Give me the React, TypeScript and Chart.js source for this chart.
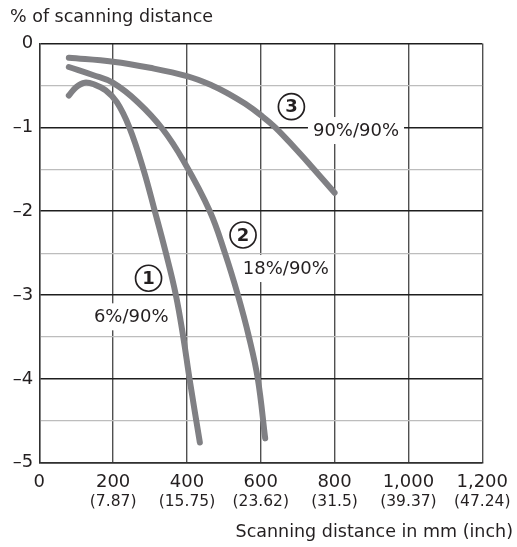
import React, { useEffect, useRef } from 'react';
import { Chart, registerables } from 'chart.js';

Chart.register(...registerables);

// ---- data ----
const curve1X = [80, 100, 123, 150, 180, 210, 244, 282, 313, 343, 370, 390, 407, 435];
const curve1Y = [-0.62, -0.52, -0.467, -0.49, -0.56, -0.7, -1.0, -1.5, -2.0, -2.5, -3.0, -3.5, -4.0, -4.76];

const curve2X = [80, 145, 200, 267, 334, 392, 462, 503, 538, 568, 592, 612];
const curve2Y = [-0.28, -0.376, -0.47, -0.7, -1.02, -1.41, -2.0, -2.5, -3.0, -3.5, -4.0, -4.71];

const curve3X = [80, 200, 300, 400, 468, 513, 558, 600, 639, 693, 738, 800];
const curve3Y = [-0.17, -0.217, -0.29, -0.39, -0.5, -0.6, -0.72, -0.855, -1.0, -1.25, -1.47, -1.78];

const xTickValues = [0, 200, 400, 600, 800, 1000, 1200];
const xTickLabels = ['0', '200', '400', '600', '800', '1,000', '1,200'];
const xTickInch = ['', '(7.87)', '(15.75)', '(23.62)', '(31.5)', '(39.37)', '(47.24)'];

const yTitle = '% of scanning distance';
const xTitle = 'Scanning distance in mm (inch)';

// circled curve numbers and their captions (data coordinates)
const markerNums = ['1', '2', '3'];
const markerX = [296, 552, 683];
const markerY = [-2.8, -2.284, -0.754];
const captionTexts = ['6%/90%', '18%/90%', '90%/90%'];
const captionX = [249, 668, 858];
const captionY = [-3.266, -2.69, -1.044];

const FONT = '"DejaVu Sans", "Liberation Sans", sans-serif';
const LINE_COLOR = '#808084';
const TEXT_COLOR = '#231f20';

function toPoints(xs: number[], ys: number[]) {
  return xs.map((x, i) => ({ x, y: ys[i] }));
}

const overlayPlugin = {
  id: 'overlay',
  afterDatasetsDraw(chart: any) {
    const { ctx } = chart;
    const xs = chart.scales.x;
    const ys = chart.scales.y;
    ctx.save();
    // captions with white background
    ctx.font = `18px ${FONT}`;
    ctx.textAlign = 'center';
    ctx.textBaseline = 'middle';
    captionTexts.forEach((t, i) => {
      const px = xs.getPixelForValue(captionX[i]);
      const py = ys.getPixelForValue(captionY[i]);
      const w = ctx.measureText(t).width;
      ctx.fillStyle = '#ffffff';
      ctx.fillRect(px - w / 2 - 5, py - 14, w + 10, 27);
      ctx.fillStyle = TEXT_COLOR;
      ctx.fillText(t, px, py);
    });
    // circled numbers
    markerNums.forEach((n, i) => {
      const px = xs.getPixelForValue(markerX[i]);
      const py = ys.getPixelForValue(markerY[i]);
      ctx.beginPath();
      ctx.arc(px, py, 13, 0, Math.PI * 2);
      ctx.fillStyle = '#ffffff';
      ctx.fill();
      ctx.lineWidth = 1.7;
      ctx.strokeStyle = TEXT_COLOR;
      ctx.stroke();
      ctx.fillStyle = TEXT_COLOR;
      ctx.font = `bold 18px ${FONT}`;
      ctx.fillText(n, px, py + 1);
    });
    ctx.restore();
  },
  afterDraw(chart: any) {
    const { ctx, chartArea } = chart;
    const xs = chart.scales.x;
    ctx.save();
    ctx.fillStyle = TEXT_COLOR;
    // inch sub-labels
    ctx.font = `15.5px ${FONT}`;
    ctx.textAlign = 'center';
    ctx.textBaseline = 'middle';
    xTickValues.forEach((v, i) => {
      if (!xTickInch[i]) return;
      ctx.fillText(xTickInch[i], xs.getPixelForValue(v), chartArea.bottom + 39);
    });
    // axis titles
    ctx.font = `17.5px ${FONT}`;
    ctx.textAlign = 'left';
    ctx.fillText(yTitle, 10, 17);
    ctx.textAlign = 'right';
    ctx.fillText(xTitle, 513, 532);
    ctx.restore();
  },
};

export default function App() {
  const ref = useRef<HTMLCanvasElement | null>(null);
  useEffect(() => {
    if (!ref.current) return;
    const ds = (xs: number[], ys: number[]) => ({
      data: toPoints(xs, ys),
      borderColor: LINE_COLOR,
      borderWidth: 6,
      borderCapStyle: 'round' as const,
      borderJoinStyle: 'round' as const,
      pointRadius: 0,
      tension: 0.4,
      fill: false,
    });
    const chart = new Chart(ref.current, {
      type: 'line',
      data: {
        datasets: [ds(curve1X, curve1Y), ds(curve2X, curve2Y), ds(curve3X, curve3Y)],
      },
      options: {
        animation: false,
        responsive: false,
        devicePixelRatio: 1,
        layout: { padding: { top: 43.5, right: 31, left: 0, bottom: 0 } },
        plugins: {
          legend: { display: false },
          tooltip: { enabled: false },
        },
        scales: {
          x: {
            type: 'linear',
            min: 0,
            max: 1200,
            afterBuildTicks: (s: any) => {
              s.ticks = xTickValues.map((v) => ({ value: v }));
            },
            afterFit: (s: any) => {
              s.height = 84.3;
            },
            ticks: {
              padding: 9,
              color: TEXT_COLOR,
              font: { family: FONT, size: 18, lineHeight: 1.2 },
              maxRotation: 0,
              autoSkip: false,
              callback: (v: any) => {
                const i = xTickValues.indexOf(Number(v));
                return i >= 0 ? xTickLabels[i] : '';
              },
            },
            grid: { color: '#505050', lineWidth: 1.4, drawTicks: false },
            border: { color: '#303030', width: 1.4 },
          },
          y: {
            type: 'linear',
            min: -5,
            max: 0,
            afterFit: (s: any) => {
              s.width = 39.3;
            },
            ticks: {
              stepSize: 0.5,
              padding: 6,
              color: TEXT_COLOR,
              autoSkip: false,
              font: { family: FONT, size: 18 },
              callback: (v: any) => {
                const n = Number(v);
                if (Math.abs(n - Math.round(n)) > 1e-6) return '';
                return n === 0 ? '0' : '\u2013' + Math.abs(Math.round(n));
              },
            },
            grid: {
              drawTicks: false,
              color: (c: any) => {
                const v = c.tick ? c.tick.value : 0;
                return Math.abs(v - Math.round(v)) < 1e-6 ? '#1e1e1e' : '#bdbdbd';
              },
              lineWidth: (c: any) => {
                const v = c.tick ? c.tick.value : 0;
                return Math.abs(v - Math.round(v)) < 1e-6 ? 1.4 : 1.2;
              },
            },
            border: { color: '#303030', width: 1.4 },
          },
        },
      },
      plugins: [overlayPlugin],
    });
    return () => chart.destroy();
  }, []);
  return (
    <div style={{ position: 'absolute', left: 0, top: 0, width: 517, height: 547, background: '#fff' }}>
      <canvas ref={ref} width={517} height={547} style={{ width: 517, height: 547 }} />
    </div>
  );
}
